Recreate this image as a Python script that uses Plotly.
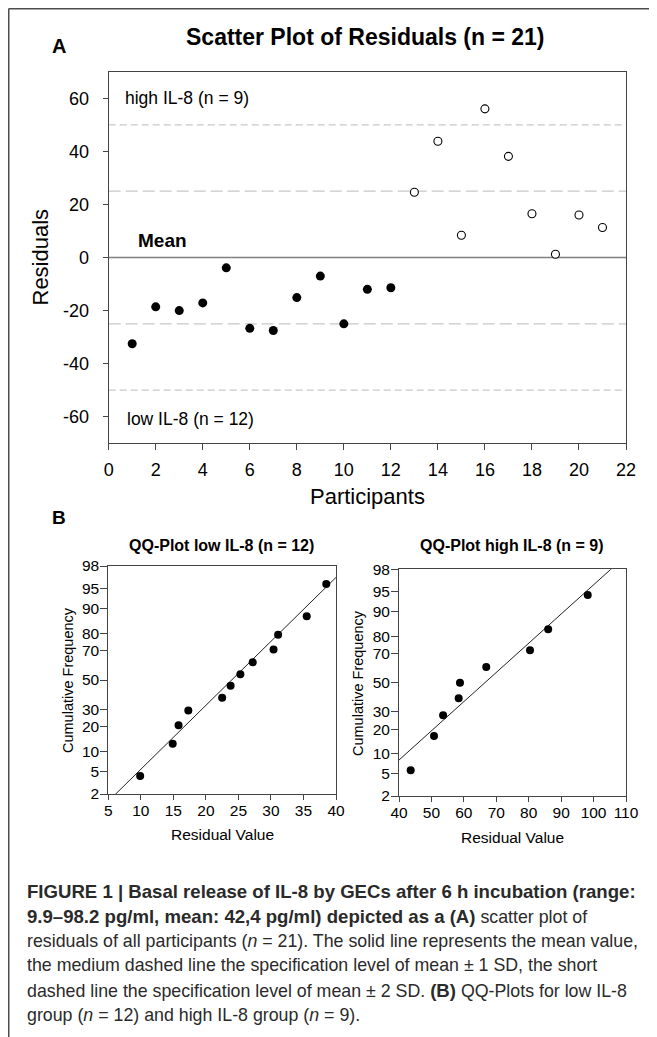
import plotly.graph_objects as go
from statistics import NormalDist

# ---------------- data ----------------
participants_low = [1, 2, 3, 4, 5, 6, 7, 8, 9, 10, 11, 12]
residuals_low = [-32.5, -18.6, -20.0, -17.1, -3.9, -26.7, -27.5, -15.1, -7.0, -25.0, -12.0, -11.4]
participants_high = [13, 14, 15, 16, 17, 18, 19, 20, 21]
residuals_high = [24.6, 43.8, 8.4, 56.0, 38.1, 16.5, 1.2, 16.0, 11.3]
mean_level = 0
sd1_levels = [25, -25]
sd2_levels = [50, -50]

top_xticks = [0, 2, 4, 6, 8, 10, 12, 14, 16, 18, 20, 22]
top_yticks = [-60, -40, -20, 0, 20, 40, 60]
top_ytick_labels = ["-60", "-40", "-20", "0", "20", "40", "60"]

qq_low_values = [9.9, 14.9, 15.8, 17.3, 22.5, 23.8, 25.3, 27.2, 30.4, 31.1, 35.5, 38.5]
qq_low_freq = [4.2, 12.5, 20.8, 29.2, 37.5, 45.8, 54.2, 62.5, 70.8, 79.2, 87.5, 95.8]
qq_low_fit_mean = 23.96
qq_low_fit_sd = 8.68

qq_high_values = [43.6, 50.8, 53.6, 58.4, 58.8, 66.9, 80.4, 86.0, 98.2]
qq_high_freq = [5.6, 16.7, 27.8, 38.9, 50.0, 61.1, 72.2, 83.3, 94.4]
qq_high_fit_mean = 66.5
qq_high_fit_sd = 18.9

qq_freq_ticks = [2, 5, 10, 20, 30, 50, 70, 80, 90, 95, 98]
qq_low_xticks = [5, 10, 15, 20, 25, 30, 35, 40]
qq_high_xticks = [40, 50, 60, 70, 80, 90, 100, 110]

# ---------------- helpers ----------------
PAGE_W, PAGE_H = 657, 1037
OFF = 8                      # default page (body) margin of the html page
W, H = PAGE_W - OFF, PAGE_H - OFF
FONT = "Liberation Sans, Arial, sans-serif"
AX = "#444444"
nd = NormalDist()


def px(x):
    return (x - OFF) / W


def py(y):
    return 1 - (y - OFF) / H


def z(p):
    return nd.inv_cdf(p / 100.0)


fig = go.Figure()

# ---------------- panel A ----------------
fig.add_trace(go.Scatter(
    x=participants_low, y=residuals_low, mode="markers",
    marker=dict(size=9, color="black", line=dict(width=0)),
    xaxis="x", yaxis="y", hoverinfo="x+y"))
fig.add_trace(go.Scatter(
    x=participants_high, y=residuals_high, mode="markers",
    marker=dict(size=8, color="white", line=dict(width=1.1, color="black")),
    xaxis="x", yaxis="y", hoverinfo="x+y"))

shapes = []
shapes.append(dict(type="line", xref="x domain", yref="y", x0=0, x1=1,
                   y0=mean_level, y1=mean_level, layer="below",
                   line=dict(color="#808080", width=1.6)))
for lv in sd1_levels:
    shapes.append(dict(type="line", xref="x domain", yref="y", x0=0, x1=1,
                       y0=lv, y1=lv, layer="below",
                       line=dict(color="#c8c8c8", width=1.3, dash="12px,5px")))
for lv in sd2_levels:
    shapes.append(dict(type="line", xref="x domain", yref="y", x0=0, x1=1,
                       y0=lv, y1=lv, layer="below",
                       line=dict(color="#c8c8c8", width=1.3, dash="7px,4px")))

# outer figure border (left and top)
shapes.append(dict(type="line", xref="paper", yref="paper", x0=px(8.75), x1=px(8.75),
                   y0=py(8.5), y1=0, line=dict(color="#4d4d4d", width=1.5)))
shapes.append(dict(type="line", xref="paper", yref="paper", x0=px(8.75), x1=1,
                   y0=py(8.75), y1=py(8.75), line=dict(color="#4d4d4d", width=1.5)))

# ---------------- panel B ----------------
fit_z = [z(p) for p in [1.0, 2.0, 50.0, 98.0, 99.0]]
fig.add_trace(go.Scatter(
    x=[qq_low_fit_mean + qq_low_fit_sd * t for t in fit_z], y=fit_z, mode="lines",
    line=dict(color="#222222", width=1), xaxis="x2", yaxis="y2", hoverinfo="skip"))
fig.add_trace(go.Scatter(
    x=qq_low_values, y=[z(p) for p in qq_low_freq], mode="markers",
    marker=dict(size=8, color="black"), xaxis="x2", yaxis="y2",
    customdata=qq_low_freq, hovertemplate="%{x}, %{customdata}%<extra></extra>"))
fig.add_trace(go.Scatter(
    x=[qq_high_fit_mean + qq_high_fit_sd * t for t in fit_z], y=fit_z, mode="lines",
    line=dict(color="#222222", width=1), xaxis="x3", yaxis="y3", hoverinfo="skip"))
fig.add_trace(go.Scatter(
    x=qq_high_values, y=[z(p) for p in qq_high_freq], mode="markers",
    marker=dict(size=8, color="black"), xaxis="x3", yaxis="y3",
    customdata=qq_high_freq, hovertemplate="%{x}, %{customdata}%<extra></extra>"))

axis_common = dict(showline=True, linecolor=AX, linewidth=1, mirror=True,
                   ticks="outside", tickcolor=AX, tickwidth=1, automargin=False,
                   showgrid=False, zeroline=False, fixedrange=True)

qq_tickvals = [z(p) for p in qq_freq_ticks]
qq_ticktext = [str(p) for p in qq_freq_ticks]
qq_yrange = [z(qq_freq_ticks[0]), z(qq_freq_ticks[-1])]

fig.update_layout(
    template="none",
    width=W, height=H, margin=dict(l=0, r=0, t=0, b=0, pad=0),
    paper_bgcolor="white", plot_bgcolor="white", showlegend=False,
    font=dict(family=FONT, color="black"),
    xaxis=dict(domain=[px(108.7), px(626)], range=[0, 22], anchor="y",
               tickvals=top_xticks, ticklen=6, tickfont=dict(size=18),
               ticklabelstandoff=4, **axis_common),
    yaxis=dict(domain=[py(443.3), py(71.7)], range=[-70, 70], anchor="x",
               tickvals=top_yticks, ticktext=top_ytick_labels, ticklen=5,
               tickfont=dict(size=18), ticklabelstandoff=10, **axis_common),
    xaxis2=dict(domain=[px(108.3), px(336)], range=[5, 40], anchor="y2",
                tickvals=qq_low_xticks, ticklen=5, tickfont=dict(size=15.5),
                ticklabelstandoff=-3, **axis_common),
    yaxis2=dict(domain=[py(794), py(566)], range=qq_yrange, anchor="x2",
                tickvals=qq_tickvals, ticktext=qq_ticktext, ticklen=7,
                tickfont=dict(size=15.5), ticklabelstandoff=-2, **axis_common),
    xaxis3=dict(domain=[px(399), px(626)], range=[40, 110], anchor="y3",
                tickvals=qq_high_xticks, ticklen=5, tickfont=dict(size=15.5),
                ticklabelstandoff=-3, **axis_common),
    yaxis3=dict(domain=[py(796), py(569.3)], range=qq_yrange, anchor="x3",
                tickvals=qq_tickvals, ticktext=qq_ticktext, ticklen=7,
                tickfont=dict(size=15.5), ticklabelstandoff=-2, **axis_common),
    shapes=shapes,
)

ann = []


def paper_text(text, x, y, size, xanchor="center", angle=0, color="black"):
    ann.append(dict(text=text, xref="paper", yref="paper", x=px(x), y=py(y),
                    xanchor=xanchor, yanchor="middle", showarrow=False,
                    textangle=angle, font=dict(size=size, color=color, family=FONT)))


# panel A texts
paper_text("<b>A</b>", 59, 46, 20)
paper_text("<b>Scatter Plot of Residuals (n = 21)</b>", 365.5, 37, 23)
paper_text("Residuals", 40.5, 257, 22, angle=-90)
paper_text("Participants", 367.5, 496, 22)
ann.append(dict(text="high IL-8 (n = 9)", xref="x", yref="y", x=0.6, y=60,
                xanchor="left", yanchor="middle", showarrow=False,
                font=dict(size=17.5, family=FONT, color="black")))
ann.append(dict(text="<b>Mean</b>", xref="x", yref="y", x=1.15, y=6.3,
                xanchor="left", yanchor="middle", showarrow=False,
                font=dict(size=19, family=FONT, color="black")))
ann.append(dict(text="low IL-8 (n = 12)", xref="x", yref="y", x=0.68, y=-60.7,
                xanchor="left", yanchor="middle", showarrow=False,
                font=dict(size=17.5, family=FONT, color="black")))

# panel B texts
paper_text("<b>B</b>", 58.5, 517, 19)
paper_text("<b>QQ-Plot low IL-8 (n = 12)</b>", 221, 545, 16)
paper_text("<b>QQ-Plot high IL-8 (n = 9)</b>", 512, 545, 16)
paper_text("Cumulative Frequency", 68, 680, 14.5, angle=-90)
paper_text("Cumulative Frequency", 358, 683, 14.5, angle=-90)
paper_text("Residual Value", 222.5, 834.5, 15.5)
paper_text("Residual Value", 512.5, 837.5, 15.5)

# caption
BS = '<span style="font-size:18.6px"><b>'
BE = '</b></span>'
caption_lines = [
    BS + "FIGURE 1 | Basal release of IL-8 by GECs after 6 h incubation (range:" + BE,
    BS + "9.9–98.2 pg/ml, mean: 42,4 pg/ml) depicted as a (A)" + BE + " scatter plot of",
    "residuals of all participants (<i>n</i> = 21). The solid line represents the mean value,",
    "the medium dashed line the specification level of mean ± 1 SD, the short",
    "dashed line the specification level of mean ± 2 SD. " + BS + "(B)" + BE + " QQ-Plots for low IL-8",
    "group (<i>n</i> = 12) and high IL-8 group (<i>n</i> = 9).",
]
caption_y = [891.7, 916, 940.5, 965, 990, 1014.5]
for line, yy in zip(caption_lines, caption_y):
    paper_text(line, 25, yy, 17.8, xanchor="left", color="#2a2a2a")

fig.update_layout(annotations=ann)
fig.write_html("out.html")
